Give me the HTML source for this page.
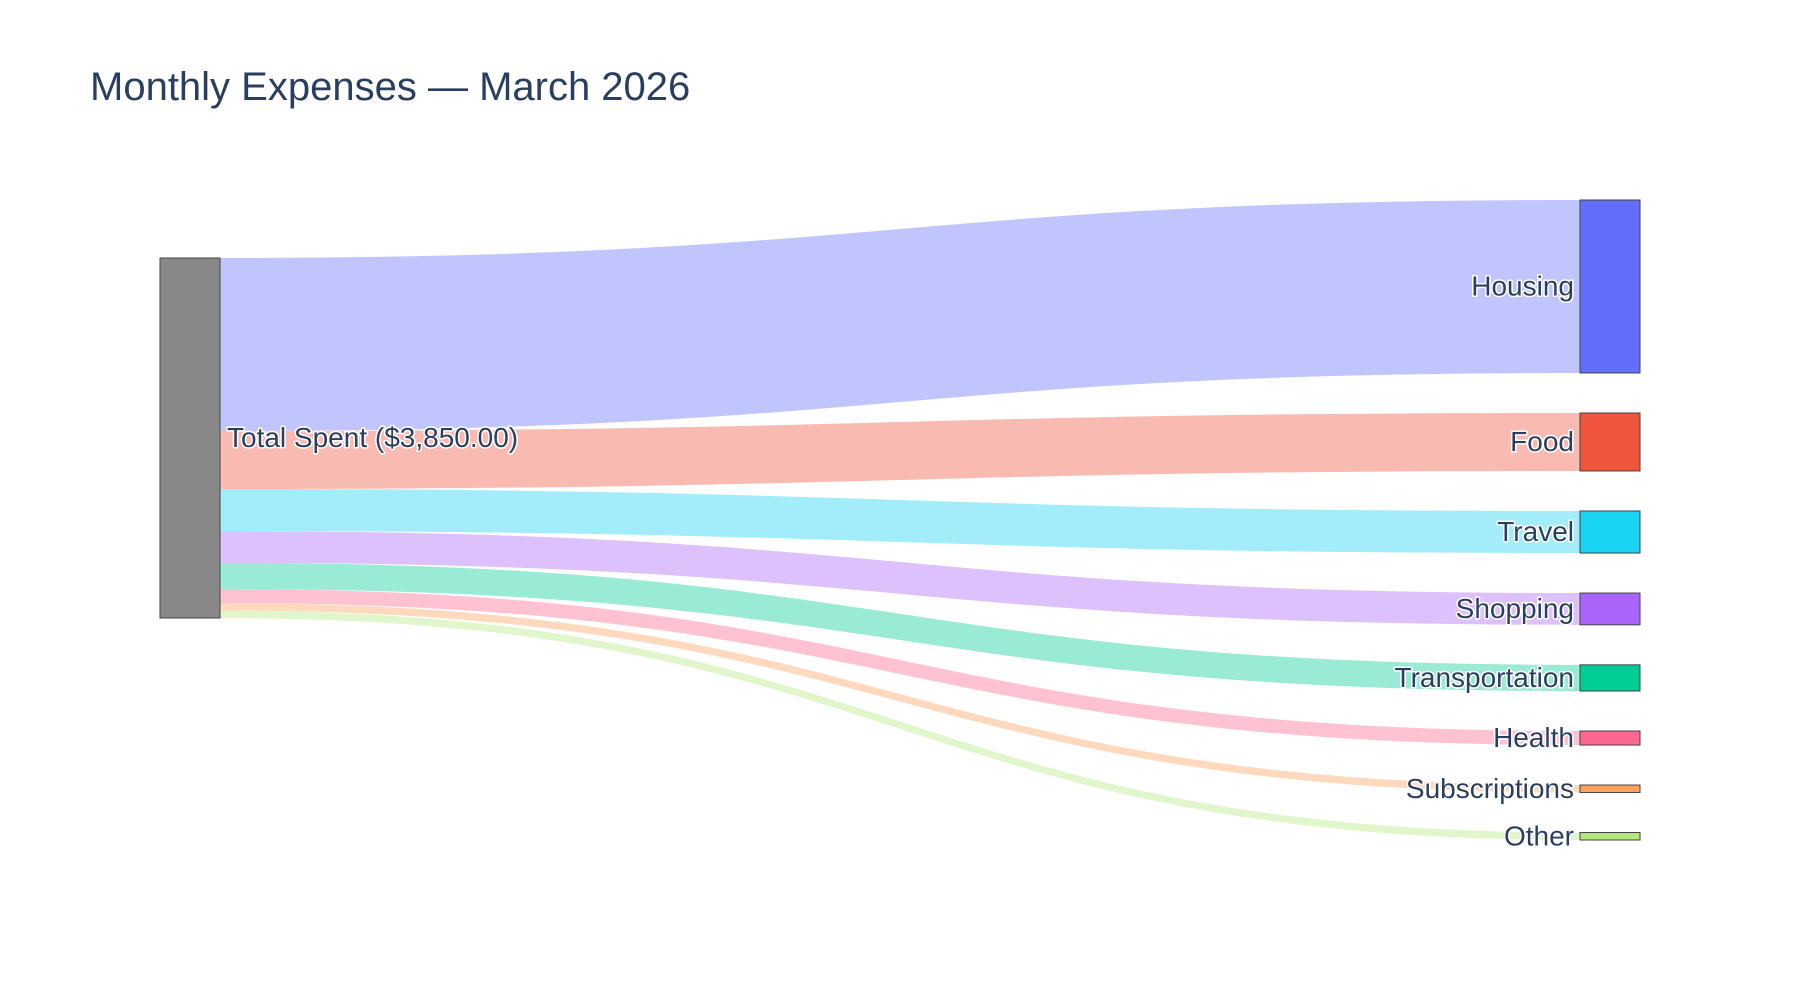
<!DOCTYPE html>
<html><head><meta charset="utf-8"><style>
html,body{margin:0;padding:0;background:#fff;}
svg{display:block;font-family:"Liberation Sans",Arial,sans-serif;}
.lbl{font-size:28px;fill:#2a3f5f;paint-order:stroke;stroke:#fff;stroke-width:3px;stroke-linejoin:round;}
</style></head><body>
<svg id="chart" width="1800" height="1000" viewBox="0 0 1800 1000">
<rect width="1800" height="1000" fill="#fff"/>
<text x="90" y="100" font-size="40" fill="#2a3f5f">Monthly Expenses — March 2026</text>
<g id="links"></g>
<g id="nodes"></g>
</svg>
<script>
const categories = ["Housing","Food","Travel","Shopping","Transportation","Health","Subscriptions","Other"];
const amounts = [1850,620,450,340,280,150,80,80];
const nodeColors = ["#636efa","#ef553b","#19d3f3","#ab63fa","#00cc96","#ff6692","#ffa15a","#b6e880"];
const sourceLabel = "Total Spent ($3,850.00)";

const NS="http://www.w3.org/2000/svg";
const total = amounts.reduce((a,b)=>a+b,0);
const k = 360/total;
const leftX0=160, leftX1=220, leftTop=258;
const rightX0=1580, rightX1=1640, rightTop=200, gap=40;
const linksG=document.getElementById('links'), nodesG=document.getElementById('nodes');
function mk(tag,attrs){const e=document.createElementNS(NS,tag);for(const a in attrs)e.setAttribute(a,attrs[a]);return e;}

let ly=leftTop, ry=rightTop;
const mx=(leftX1+rightX0)/2;
categories.forEach((c,i)=>{
  const h=amounts[i]*k;
  const d=`M${leftX1},${ly} C${mx},${ly} ${mx},${ry} ${rightX0},${ry} L${rightX0},${ry+h} C${mx},${ry+h} ${mx},${ly+h} ${leftX1},${ly+h} Z`;
  const p=mk('path',{d:d,fill:nodeColors[i],'fill-opacity':0.4});
  
  
  linksG.appendChild(p);
  const r=mk('rect',{x:rightX0,y:ry,width:rightX1-rightX0,height:h,fill:nodeColors[i],stroke:'#444','stroke-width':1});
  
  
  nodesG.appendChild(r);
  const t=mk('text',{x:rightX0-6,y:ry+h/2+9,'text-anchor':'end',class:'lbl'});
  t.textContent=c;
  
  
  nodesG.appendChild(t);
  ly+=h; ry+=h+gap;
});
const src=mk('rect',{x:leftX0,y:leftTop,width:leftX1-leftX0,height:total*k,fill:'#888',stroke:'#444','stroke-width':1});


nodesG.appendChild(src);
const st=mk('text',{x:leftX1+7,y:leftTop+total*k/2+9,class:'lbl'});
st.textContent=sourceLabel;


nodesG.appendChild(st);
</script>
</body></html>
